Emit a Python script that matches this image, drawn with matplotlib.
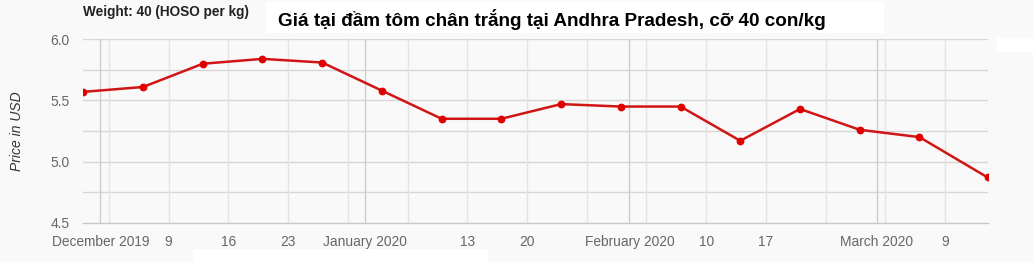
import matplotlib
matplotlib.use("Agg")
import matplotlib.pyplot as plt
import numpy as np
import pandas as pd
from matplotlib.patches import Rectangle

plt.rcParams['font.family'] = ['Liberation Sans', 'DejaVu Sans']

# ---- data ----
dates = ["2019-11-29", "2019-12-06", "2019-12-13", "2019-12-20", "2019-12-27",
         "2020-01-03", "2020-01-10", "2020-01-17", "2020-01-24", "2020-01-31",
         "2020-02-07", "2020-02-14", "2020-02-21", "2020-02-28", "2020-03-06",
         "2020-03-14"]
prices = [5.57, 5.61, 5.80, 5.84, 5.81, 5.58, 5.35, 5.35, 5.47, 5.45,
          5.45, 5.17, 5.43, 5.26, 5.20, 4.87]

tick_dates = ["2019-12-01", "2019-12-09", "2019-12-16", "2019-12-23", "2020-01-01",
              "2020-01-13", "2020-01-20", "2020-02-01", "2020-02-10", "2020-02-17",
              "2020-03-01", "2020-03-09"]
tick_labels = ["December 2019", "9", "16", "23", "January 2020", "13", "20",
               "February 2020", "10", "17", "March 2020", "9"]
week_lines = ["2019-12-02", "2019-12-09", "2019-12-16", "2019-12-23", "2019-12-30",
              "2020-01-06", "2020-01-13", "2020-01-20", "2020-01-27", "2020-02-03",
              "2020-02-10", "2020-02-17", "2020-02-24", "2020-03-02", "2020-03-09"]
month_lines = ["2019-12-01", "2020-01-01", "2020-02-01", "2020-03-01"]

title = "Giá tại đầm tôm chân trắng tại Andhra Pradesh, cỡ 40 con/kg"
subtitle = "Weight: 40 (HOSO per kg)"
ylabel = "Price in USD"

bg = "#f9f9f9"
W, H = 1033, 262
fig = plt.figure(figsize=(W / 100, H / 100), dpi=100, facecolor=bg)
ax = fig.add_axes([83.3 / W, 1 - 222.7 / H, (987.7 - 83.3) / W, (222.7 - 39.3) / H])
ax.set_facecolor(bg)

x = pd.to_datetime(dates)
ax.set_xlim(x[0], x[-1])
ax.set_ylim(4.5, 6.0)

# grid
for yv in np.arange(4.75, 6.01, 0.25):
    ax.axhline(yv, color="#d6d6d6", lw=1.0, zorder=1)
for d in pd.to_datetime(week_lines):
    ax.axvline(d, color="#e4e4e4", lw=1.0, zorder=1)
for d in pd.to_datetime(month_lines):
    ax.axvline(d, color="#cccccc", lw=1.0, zorder=1)

ax.plot(x, prices, color="#d01515", lw=1.8, marker="o", ms=4.6,
        markerfacecolor="#e00000", markeredgecolor="#e00000", zorder=3,
        solid_joinstyle="round")

for s in ["top", "right", "left"]:
    ax.spines[s].set_visible(False)
ax.spines["bottom"].set_color("#c8c8c8")
ax.spines["bottom"].set_linewidth(1.0)

ax.set_yticks([4.5, 5.0, 5.5, 6.0])
ax.set_yticklabels(["4.5", "5.0", "5.5", "6.0"])
ax.set_xticks(pd.to_datetime(tick_dates))
ax.set_xticklabels(tick_labels)
ax.tick_params(axis="both", length=0, colors="#666666", labelsize=9.9)
ax.tick_params(axis="x", pad=9)
ax.tick_params(axis="y", pad=10)

fig.text(17 / W, 1 - 131 / H, ylabel, rotation=90, style="italic",
         fontsize=10, color="#333333", ha="center", va="center")
fig.text(83 / W, 1 - 12 / H, subtitle, fontsize=9.8, fontweight="bold",
         color="#222222", ha="left", va="center")

# white boxes (as in reference screenshot)
fig.patches.append(Rectangle((266 / W, 1 - 33 / H), (884 - 266) / W, 31 / H,
                             transform=fig.transFigure, facecolor="white",
                             edgecolor="none", zorder=0))
fig.patches.append(Rectangle((997 / W, 1 - 52 / H), 36 / W, 14 / H,
                             transform=fig.transFigure, facecolor="white",
                             edgecolor="none", zorder=0))
fig.patches.append(Rectangle((193 / W, 0), (488 - 193) / W, 13 / H,
                             transform=fig.transFigure, facecolor="white",
                             edgecolor="none", zorder=0))
fig.text(552 / W, 1 - 19 / H, title, fontsize=13.6, fontweight="bold",
         color="#000000", ha="center", va="center")

fig.savefig("out.png", dpi=100, facecolor=bg)
